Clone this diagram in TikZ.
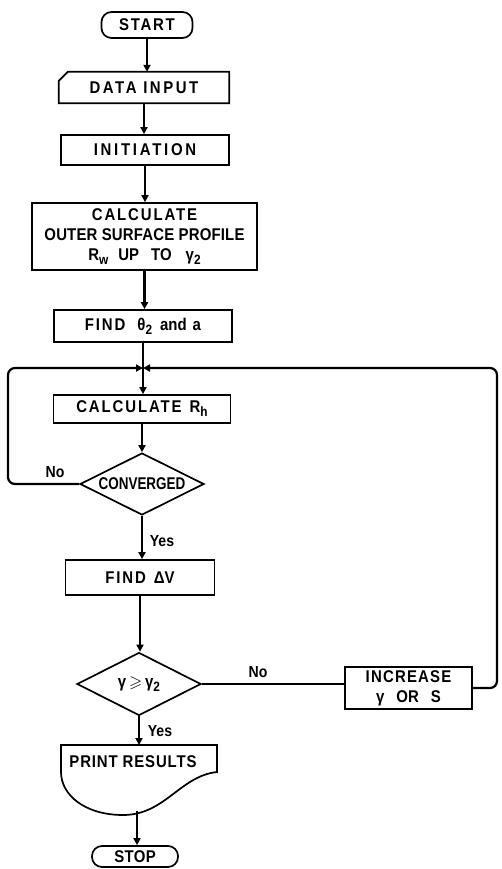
\documentclass[tikz,border=0pt]{standalone}
\usepackage{fontspec}
\usepackage{amssymb}
\usepackage{graphicx}
\setmainfont{Liberation Sans}[FakeStretch=0.88]
\usetikzlibrary{arrows.meta,shapes.geometric}
\newcommand\spc[2]{{\addfontfeatures{LetterSpace=#1}#2}}
\newcommand\sbs[1]{\raisebox{-0.45ex}{\fontsize{13.5}{13.5}\selectfont #1}}
\begin{document}
\begin{tikzpicture}[x=1pt,y=-1pt,
  every node/.style={font=\bfseries\fontsize{17}{20}\selectfont, inner sep=0pt, align=center},
  boxl/.style={draw, line width=1.7pt, line join=miter},
  pbox/.style={draw, line width=1.7pt},
  term/.style={draw, line width=1.7pt, rounded corners=10pt},
  dia/.style={draw, line width=1.7pt, diamond, aspect=2},
  arr/.style={line width=2.2pt, -{Triangle[length=7pt,width=7pt]}},
  plain/.style={line width=2.2pt},
  lbl/.style={font=\bfseries\fontsize{16}{18}\selectfont}
]
\useasboundingbox (0,0) rectangle (501,869);

% nodes
\node[term, minimum width=91pt, minimum height=26pt] (start) at (147,25) {\spc{10}{START}};
\node[minimum width=170pt, minimum height=31pt] (data) at (144,87.5) {\spc{15}{DATA INPUT}};
\draw[boxl] ([xshift=9pt]data.north west) -- (data.north east) -- (data.south east)
  -- (data.south west) -- ([yshift=-9pt]data.north west) -- cycle;
\node[pbox, minimum width=168pt, minimum height=30pt] (init) at (145,150) {\spc{16}{INITIATION}};
\node[pbox, minimum width=225pt, minimum height=67pt] (calc) at (144.5,236.5)
  {\spc{11}{CALCULATE}\\ \spc{1}{OUTER SURFACE PROFILE}\\
   R\sbs{w}\hspace{10pt}UP\hspace{12pt}TO\hspace{14pt}γ\sbs{2}};
\node[pbox, minimum width=178pt, minimum height=32pt] (findt) at (143,326)
  {\spc{11}{FIND}\hspace{12pt}θ\sbs{2}\hspace{8pt}and\hspace{6pt}a};
\coordinate (j) at (143,368);
\coordinate (lc) at (8,368);
\coordinate (rc) at (497,368);
\node[pbox, minimum width=177pt, minimum height=28pt] (rh) at (142,409)
  {\spc{11}{CALCULATE}\hspace{8pt}R\sbs{h}};
\node[dia, minimum width=124pt, minimum height=62pt] (conv) at (142,484)
  {\scalebox{0.9}[1]{CONVERGED}};
\node[pbox, minimum width=149pt, minimum height=35pt] (findv) at (140,577.5)
  {\spc{11}{FIND}\hspace{8pt}ΔV};
\node[dia, minimum width=124pt, minimum height=63pt] (gam) at (139,684)
  {γ\,$\geqslant$\,γ\sbs{2}};
\node[pbox, minimum width=127pt, minimum height=42pt] (incr) at (408.5,688)
  {\spc{7}{INCREASE}\\ γ\hspace{12pt}OR\hspace{12pt}S};
\node (pr) at (133,762) {\spc{5}{PRINT RESULTS}};
\draw[boxl] (61,745) -- (217,745) -- (217,772)
  .. controls (180,776) and (165,815) .. (123,815)
  .. controls (85,815) and (61,795) .. (61,772) -- cycle;
\coordinate (prt) at (139,745);
\coordinate (prb) at (137,811);
\node[term, minimum width=86pt, minimum height=21pt] (stop) at (135,856.5) {\spc{2}{STOP}};

% labels
\node[lbl] (no1) at (55,472) {No};
\node[lbl] (yes1) at (162,541) {Yes};
\node[lbl] (no2) at (258,672) {No};
\node[lbl] (yes2) at (160,731) {Yes};

% connectors
\draw[arr] (start.south) -- (start.south |- data.north);
\draw[arr] (data.south) -- (data.south |- init.north);
\draw[arr] (init.south) -- (init.south |- calc.north);
\draw[arr] (calc.south) -- (calc.south |- findt.north);
\draw[arr] (findt.south) -- (findt.south |- rh.north);
\draw[arr] (rh.south) -- (rh.south |- conv.north);
\draw[arr] (conv.south) -- (conv.south |- findv.north);
\draw[arr] (findv.south) -- (findv.south |- gam.north);
\draw[arr] (gam.south) -- (prt);
\draw[arr] (prb) -- (prb |- stop.north);
\draw[plain] (gam.east) -- (gam.east -| incr.west);
\draw[arr, rounded corners=7pt] (incr.east) -| (rc) -- (j);
\draw[arr, rounded corners=7pt] (conv.west) -| (lc) -- (j);
\end{tikzpicture}
\end{document}
